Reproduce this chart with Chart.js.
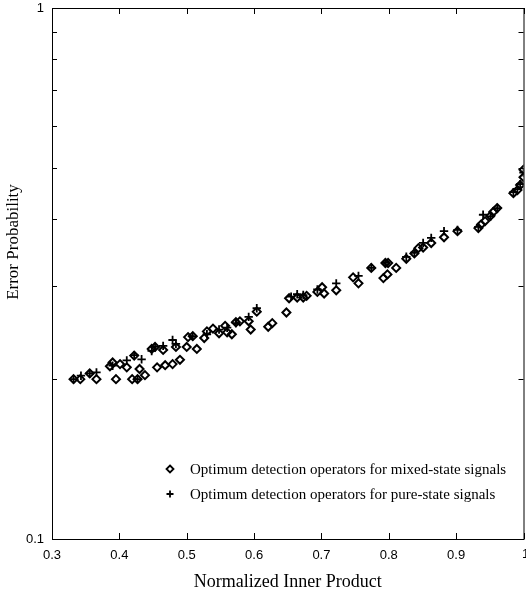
<!DOCTYPE html>
<html>
<head>
<meta charset="utf-8">
<script src="https://cdn.jsdelivr.net/npm/chart.js@4.4.0/dist/chart.umd.min.js"></script>
<style>
  html, body { margin: 0; padding: 0; background: #fff; }
  #chart { display: block; }
</style>
</head>
<body>
<canvas id="chart" width="526" height="593"></canvas>
<script>
// mixed-state optimum operators (diamonds)
const mixedX = [0.332, 0.342, 0.356, 0.366, 0.386, 0.390, 0.395, 0.401, 0.411, 0.419, 0.422, 0.427, 0.430,
  0.438, 0.448, 0.453, 0.456, 0.465, 0.468, 0.479, 0.484, 0.490, 0.500, 0.502, 0.509, 0.515, 0.526, 0.530,
  0.539, 0.548, 0.557, 0.560, 0.567, 0.573, 0.579, 0.592, 0.595, 0.604, 0.621, 0.627, 0.648, 0.652, 0.664,
  0.673, 0.678, 0.694, 0.701, 0.704, 0.722, 0.747, 0.755, 0.774, 0.792, 0.798, 0.795, 0.799, 0.811, 0.826,
  0.838, 0.844, 0.851, 0.863, 0.882, 0.902, 0.933, 0.937, 0.943, 0.951, 0.955, 0.961, 0.985, 0.991, 0.995,
  1.0, 1.0];
const mixedY = [0.200, 0.200, 0.205, 0.200, 0.2115, 0.215, 0.200, 0.2135, 0.2105, 0.200, 0.2215, 0.200, 0.209,
  0.2035, 0.228, 0.230, 0.2105, 0.227, 0.2125, 0.2135, 0.230, 0.2175, 0.230, 0.240, 0.241, 0.228, 0.239, 0.246,
  0.249, 0.244, 0.252, 0.245, 0.243, 0.256, 0.257, 0.257, 0.248, 0.268, 0.251, 0.255, 0.267, 0.284, 0.285,
  0.285, 0.287, 0.292, 0.298, 0.290, 0.294, 0.311, 0.303, 0.324, 0.310, 0.315, 0.331, 0.331, 0.324, 0.337,
  0.345, 0.353, 0.354, 0.361, 0.370, 0.380, 0.385, 0.391, 0.397, 0.406, 0.413, 0.420, 0.448, 0.454, 0.464,
  0.480, 0.496];

// pure-state optimum operators (plus signs)
const pureX = [0.332, 0.343, 0.356, 0.366, 0.390, 0.411, 0.422, 0.427, 0.433, 0.448, 0.453, 0.465, 0.479,
  0.484, 0.509, 0.530, 0.548, 0.560, 0.573, 0.592, 0.604, 0.655, 0.664, 0.673, 0.694, 0.722, 0.755, 0.774,
  0.795, 0.826, 0.838, 0.851, 0.863, 0.882, 0.902, 0.933, 0.940, 0.951, 0.961, 0.985, 0.991, 0.995, 1.0];
const pureY = [0.200, 0.203, 0.205, 0.206, 0.212, 0.217, 0.222, 0.200, 0.218, 0.226, 0.230, 0.231, 0.237,
  0.233, 0.241, 0.243, 0.248, 0.250, 0.255, 0.262, 0.272, 0.286, 0.289, 0.288, 0.295, 0.303, 0.313, 0.324,
  0.331, 0.340, 0.346, 0.361, 0.369, 0.380, 0.382, 0.387, 0.408, 0.405, 0.420, 0.450, 0.456, 0.466, 0.490];

const xTicks = [0.3, 0.4, 0.5, 0.6, 0.7, 0.8, 0.9, 1.0];
const yTicks = [0.1, 0.2, 0.3, 0.4, 0.5, 0.6, 0.7, 0.8, 0.9, 1.0];
const yLabelled = [0.1, 1.0];

const xTitle = "Normalized Inner Product";
const yTitle = "Error Probability";
const legendLabels = [
  "Optimum detection operators for mixed-state signals",
  "Optimum detection operators for pure-state signals"
];

const toPoints = (xs, ys) => xs.map((x, i) => ({ x: x, y: ys[i] }));

const drawMarker = (ctx, style, x, y) => {
  ctx.save();
  ctx.strokeStyle = "#000";
  ctx.lineWidth = 1.8;
  ctx.beginPath();
  if (style === "rectRot") {
    ctx.moveTo(x, y - 3.5);
    ctx.lineTo(x + 3.5, y);
    ctx.lineTo(x, y + 3.5);
    ctx.lineTo(x - 3.5, y);
    ctx.closePath();
  } else {
    ctx.moveTo(x - 3.5, y);
    ctx.lineTo(x + 3.5, y);
    ctx.moveTo(x, y - 3.5);
    ctx.lineTo(x, y + 3.5);
  }
  ctx.stroke();
  ctx.restore();
};

// box, inward ticks, y title, the cut "1" and legend
const framePlugin = {
  id: "frame",
  afterDraw(chart) {
    const ctx = chart.ctx;
    const a = chart.chartArea;
    const xs = chart.scales.x;
    const ys = chart.scales.y;
    ctx.save();
    ctx.strokeStyle = "#000";
    ctx.lineWidth = 1;
    ctx.strokeRect(a.left + 0.5, a.top + 0.5, a.right - a.left, a.bottom - a.top);
    ctx.beginPath();
    xTicks.forEach((v) => {
      const px = Math.round(xs.getPixelForValue(v)) + 0.5;
      ctx.moveTo(px, a.bottom);
      ctx.lineTo(px, a.bottom - 6);
      ctx.moveTo(px, a.top);
      ctx.lineTo(px, a.top + 6);
    });
    yTicks.forEach((v) => {
      const py = Math.round(ys.getPixelForValue(v)) + 0.5;
      ctx.moveTo(a.left, py);
      ctx.lineTo(a.left + 5, py);
      ctx.moveTo(a.right, py);
      ctx.lineTo(a.right - 5, py);
    });
    ctx.stroke();

    ctx.fillStyle = "#000";
    // last x label sits on the page edge
    ctx.font = "13px 'Liberation Sans', Arial, sans-serif";
    ctx.textAlign = "center";
    ctx.textBaseline = "top";
    ctx.fillText("1", xs.getPixelForValue(1.0) + 2, a.bottom + 9);

    ctx.save();
    ctx.translate(14, 242);
    ctx.rotate(-Math.PI / 2);
    ctx.font = "17px 'Liberation Serif', 'DejaVu Serif', serif";
    ctx.textAlign = "center";
    ctx.textBaseline = "middle";
    ctx.fillText(yTitle, 0, 0);
    ctx.restore();

    const styles = ["rectRot", "cross"];
    const rows = [469, 494];
    ctx.font = "15px 'Liberation Serif', 'DejaVu Serif', serif";
    ctx.textAlign = "left";
    ctx.textBaseline = "middle";
    legendLabels.forEach((txt, i) => {
      drawMarker(ctx, styles[i], 170, rows[i]);
      ctx.fillText(txt, 190, rows[i] + 1);
    });
    ctx.restore();
  }
};

new Chart(document.getElementById("chart"), {
  type: "scatter",
  data: {
    datasets: [
      {
        label: legendLabels[0],
        data: toPoints(mixedX, mixedY),
        pointStyle: "rectRot",
        pointRadius: 4,
        borderWidth: 2,
        borderColor: "#000",
        backgroundColor: "rgba(255,255,255,0)"
      },
      {
        label: legendLabels[1],
        data: toPoints(pureX, pureY),
        pointStyle: "cross",
        pointRadius: 4.2,
        borderWidth: 1.8,
        borderColor: "#000",
        backgroundColor: "#000"
      }
    ]
  },
  options: {
    responsive: false,
    devicePixelRatio: 1,
    animation: false,
    layout: { autoPadding: false, padding: { top: 8, right: 2.5, left: 0, bottom: 0 } },
    plugins: {
      legend: { display: false },
      tooltip: { enabled: false }
    },
    scales: {
      x: {
        type: "linear",
        min: 0.3,
        max: 1.0,
        grid: { display: false, drawTicks: false },
        border: { display: false },
        afterBuildTicks: (scale) => {
          scale.ticks = xTicks.map((v) => ({ value: v }));
        },
        afterFit: (scale) => {
          scale.height = 54;
          scale.paddingLeft = 0;
          scale.paddingRight = 0;
        },
        ticks: {
          autoSkip: false,
          maxRotation: 0,
          padding: 9,
          color: "#000",
          font: { family: "'Liberation Sans', Arial, sans-serif", size: 13 },
          callback: (v) => (v >= 0.999 ? "" : Number(v).toFixed(1))
        },
        title: {
          display: true,
          text: xTitle,
          color: "#000",
          padding: { top: 4, bottom: 0 },
          font: { family: "'Liberation Serif', 'DejaVu Serif', serif", size: 18 }
        }
      },
      y: {
        type: "logarithmic",
        min: 0.1,
        max: 1.0,
        grid: { display: false, drawTicks: false },
        border: { display: false },
        afterBuildTicks: (scale) => {
          scale.ticks = yTicks.map((v) => ({ value: v }));
        },
        afterFit: (scale) => {
          scale.width = 52;
          scale.paddingTop = 0;
          scale.paddingBottom = 0;
        },
        ticks: {
          autoSkip: false,
          padding: 8,
          color: "#000",
          font: { family: "'Liberation Sans', Arial, sans-serif", size: 13 },
          callback: (v) => {
            const hit = yLabelled.find((t) => Math.abs(t - v) < 1e-6);
            return hit === undefined ? "" : String(hit);
          }
        }
      }
    }
  },
  plugins: [framePlugin]
});
</script>
</body>
</html>
